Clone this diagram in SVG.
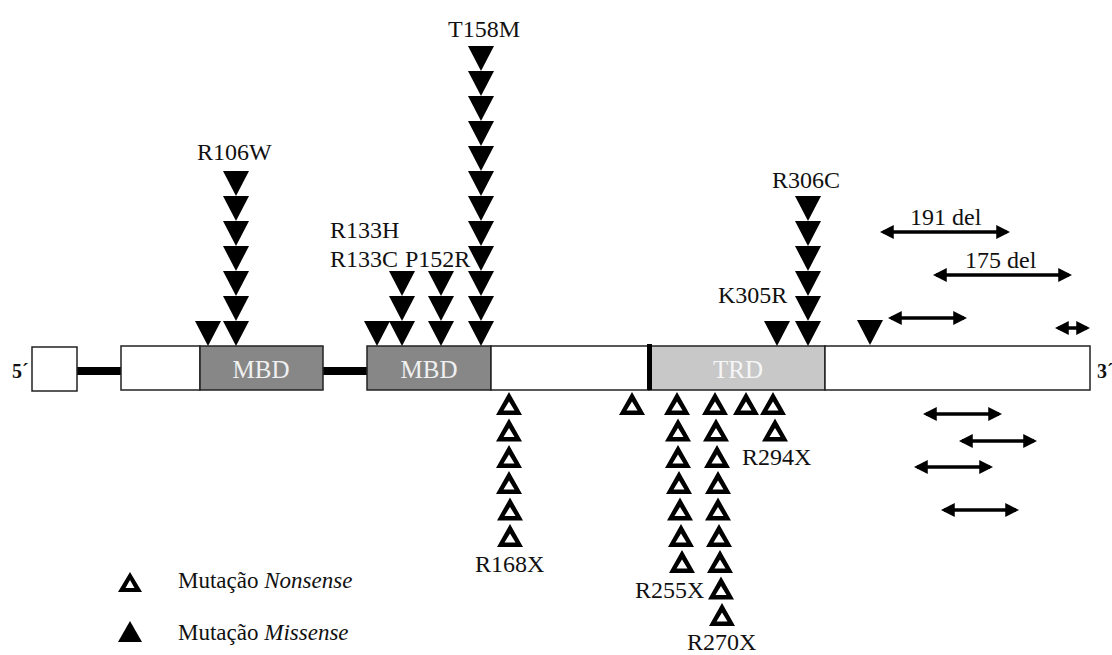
<svg xmlns="http://www.w3.org/2000/svg" width="1112" height="655" viewBox="0 0 1112 655">
<style>
  text{font-family:'Liberation Serif','DejaVu Serif',serif}
  .lbl{font-size:24px;fill:#111}
  .leg{font-size:23px;fill:#111}
  .end{font-size:20px;font-weight:bold;fill:#111}
  .dom{font-size:25px;text-anchor:middle}
  .box{stroke:#222;stroke-width:1.5}
  .del{stroke:#000;stroke-width:3.5;fill:none;marker-start:url(#ah);marker-end:url(#ah)}
</style>
<defs>
  <path id="mis" d="M-13,0 H13 L0,25 Z" fill="#000"/>
  <path id="non" d="M0,0 L13,23 H-13 Z M0,9.5 L-5.5,18.5 H5.5 Z" fill="#000" fill-rule="evenodd"/>
  <marker id="ah" markerUnits="userSpaceOnUse" markerWidth="14" markerHeight="14" viewBox="0 0 13 13" refX="10" refY="6.5" orient="auto-start-reverse">
    <path d="M0,0 L13,6.5 L0,13 Z" fill="#000"/>
  </marker>
</defs>
<rect width="1112" height="655" fill="#fff"/>

<g id="gene">
  <g id="introns">
    <rect x="77" y="367" width="44" height="8" fill="#000"/>
    <rect x="323" y="367" width="44" height="8" fill="#000"/>
  </g>
  <g id="exon1"><rect class="box" x="32" y="347" width="45" height="44" fill="#fff"/></g>
  <g id="exon2"><rect class="box" x="121" y="346" width="79" height="44" fill="#fff"/></g>
  <g id="mbd1"><rect class="box" x="200" y="346" width="123" height="44" fill="#878787"/><text class="dom" x="261" y="378" fill="#f0f0f0" font-family="Liberation Serif, DejaVu Serif, serif">MBD</text></g>
  <g id="mbd2"><rect class="box" x="367" y="346" width="124" height="44" fill="#878787"/><text class="dom" x="429" y="378" fill="#f0f0f0" font-family="Liberation Serif, DejaVu Serif, serif">MBD</text></g>
  <g id="exon-mid"><rect class="box" x="491" y="346" width="158" height="44" fill="#fff"/></g>
  <g id="trd"><rect class="box" x="649" y="346" width="176" height="44" fill="#c8c8c8"/><text class="dom" x="738" y="378" fill="#f6f6f6" font-family="Liberation Serif, DejaVu Serif, serif">TRD</text></g>
  <g id="exon-3"><rect class="box" x="825" y="346" width="265" height="44" fill="#fff"/></g>
  <g id="boundary"><rect x="647" y="344" width="5" height="46" fill="#000"/></g>
  <text class="end" x="12" y="378" font-family="Liberation Serif, DejaVu Serif, serif">5´</text>
  <text class="end" x="1097" y="378" font-family="Liberation Serif, DejaVu Serif, serif">3´</text>
</g>

<g id="missense">
  <g id="m208"><use href="#mis" x="208" y="321"/></g>
  <g id="R106W">
    <text class="lbl" x="197" y="160" font-family="Liberation Serif, DejaVu Serif, serif">R106W</text>
    <use href="#mis" x="236" y="171"/><use href="#mis" x="236" y="196"/><use href="#mis" x="236" y="221"/><use href="#mis" x="236" y="246"/><use href="#mis" x="236" y="271"/><use href="#mis" x="236" y="296"/><use href="#mis" x="236" y="321"/>
  </g>
  <g id="m377"><use href="#mis" x="377" y="321"/></g>
  <g id="R133">
    <text class="lbl" x="330" y="238" font-family="Liberation Serif, DejaVu Serif, serif">R133H</text>
    <text class="lbl" x="330" y="267" font-family="Liberation Serif, DejaVu Serif, serif">R133C</text>
    <use href="#mis" x="402" y="271"/><use href="#mis" x="402" y="296"/><use href="#mis" x="402" y="321"/>
  </g>
  <g id="P152R">
    <text class="lbl" x="405" y="267" font-family="Liberation Serif, DejaVu Serif, serif">P152R</text>
    <use href="#mis" x="441" y="271"/><use href="#mis" x="441" y="296"/><use href="#mis" x="441" y="321"/>
  </g>
  <g id="T158M">
    <text class="lbl" x="448" y="37" font-family="Liberation Serif, DejaVu Serif, serif">T158M</text>
    <use href="#mis" x="481" y="46"/><use href="#mis" x="481" y="71"/><use href="#mis" x="481" y="96"/><use href="#mis" x="481" y="121"/><use href="#mis" x="481" y="146"/><use href="#mis" x="481" y="171"/><use href="#mis" x="481" y="196"/><use href="#mis" x="481" y="221"/><use href="#mis" x="481" y="246"/><use href="#mis" x="481" y="271"/><use href="#mis" x="481" y="296"/><use href="#mis" x="481" y="321"/>
  </g>
  <g id="K305R">
    <text class="lbl" x="718" y="303" font-family="Liberation Serif, DejaVu Serif, serif">K305R</text>
    <use href="#mis" x="777" y="321"/>
  </g>
  <g id="R306C">
    <text class="lbl" x="772" y="188" font-family="Liberation Serif, DejaVu Serif, serif">R306C</text>
    <use href="#mis" x="808" y="196"/><use href="#mis" x="808" y="221"/><use href="#mis" x="808" y="246"/><use href="#mis" x="808" y="271"/><use href="#mis" x="808" y="296"/><use href="#mis" x="808" y="321"/>
  </g>
  <g id="m870"><use href="#mis" x="870" y="320"/></g>
</g>

<g id="nonsense">
  <g id="R168X">
    <use href="#non" x="509" y="392"/><use href="#non" x="509" y="418.5"/><use href="#non" x="509" y="445"/><use href="#non" x="509" y="471"/><use href="#non" x="510" y="497.5"/><use href="#non" x="510" y="524"/>
    <text class="lbl" x="475" y="572" font-family="Liberation Serif, DejaVu Serif, serif">R168X</text>
  </g>
  <g id="n632"><use href="#non" x="632" y="392"/></g>
  <g id="R255X">
    <use href="#non" x="677" y="392"/><use href="#non" x="678" y="418.5"/><use href="#non" x="678" y="445"/><use href="#non" x="679" y="471"/><use href="#non" x="680" y="497.5"/><use href="#non" x="681" y="524"/><use href="#non" x="682" y="550"/>
    <text class="lbl" x="635" y="598" font-family="Liberation Serif, DejaVu Serif, serif">R255X</text>
  </g>
  <g id="R270X">
    <use href="#non" x="715" y="392"/><use href="#non" x="716" y="418.5"/><use href="#non" x="717" y="445"/><use href="#non" x="718" y="471"/><use href="#non" x="718" y="497.5"/><use href="#non" x="719" y="524"/><use href="#non" x="720" y="550"/><use href="#non" x="721" y="576.5"/><use href="#non" x="722" y="603"/>
    <text class="lbl" x="687" y="650" font-family="Liberation Serif, DejaVu Serif, serif">R270X</text>
  </g>
  <g id="n746"><use href="#non" x="746" y="392"/></g>
  <g id="R294X">
    <use href="#non" x="773" y="392"/><use href="#non" x="775" y="418.5"/>
    <text class="lbl" x="742" y="465" font-family="Liberation Serif, DejaVu Serif, serif">R294X</text>
  </g>
</g>

<g id="connectors">
  <line class="del" x1="883" y1="232" x2="1007" y2="232"/>
  <line class="del" x1="936" y1="275" x2="1069" y2="275"/>
  <line class="del" x1="891" y1="318" x2="964" y2="318"/>
  <line class="del" x1="1058" y1="328" x2="1087" y2="328"/>
  <line class="del" x1="926" y1="414" x2="999" y2="414"/>
  <line class="del" x1="962" y1="441" x2="1034" y2="441"/>
  <line class="del" x1="917" y1="467" x2="990" y2="467"/>
  <line class="del" x1="944" y1="510" x2="1016" y2="510"/>
</g>
<g id="deletion-labels">
  <text class="lbl" x="910" y="225" font-family="Liberation Serif, DejaVu Serif, serif">191 del</text>
  <text class="lbl" x="965" y="268" font-family="Liberation Serif, DejaVu Serif, serif">175 del</text>
</g>

<g id="legend">
  <g id="legend-nonsense">
    <path d="M130,572 L142,592 H118 Z M130,580 L125.5,588 H134.5 Z" fill="#000" fill-rule="evenodd"/>
    <text class="leg" x="178" y="588" font-family="Liberation Serif, DejaVu Serif, serif">Mutação <tspan font-style="italic">Nonsense</tspan></text>
  </g>
  <g id="legend-missense">
    <path d="M118,642 H142 L130,621 Z" fill="#000"/>
    <text class="leg" x="178" y="640" font-family="Liberation Serif, DejaVu Serif, serif">Mutação <tspan font-style="italic">Missense</tspan></text>
  </g>
</g>
</svg>
